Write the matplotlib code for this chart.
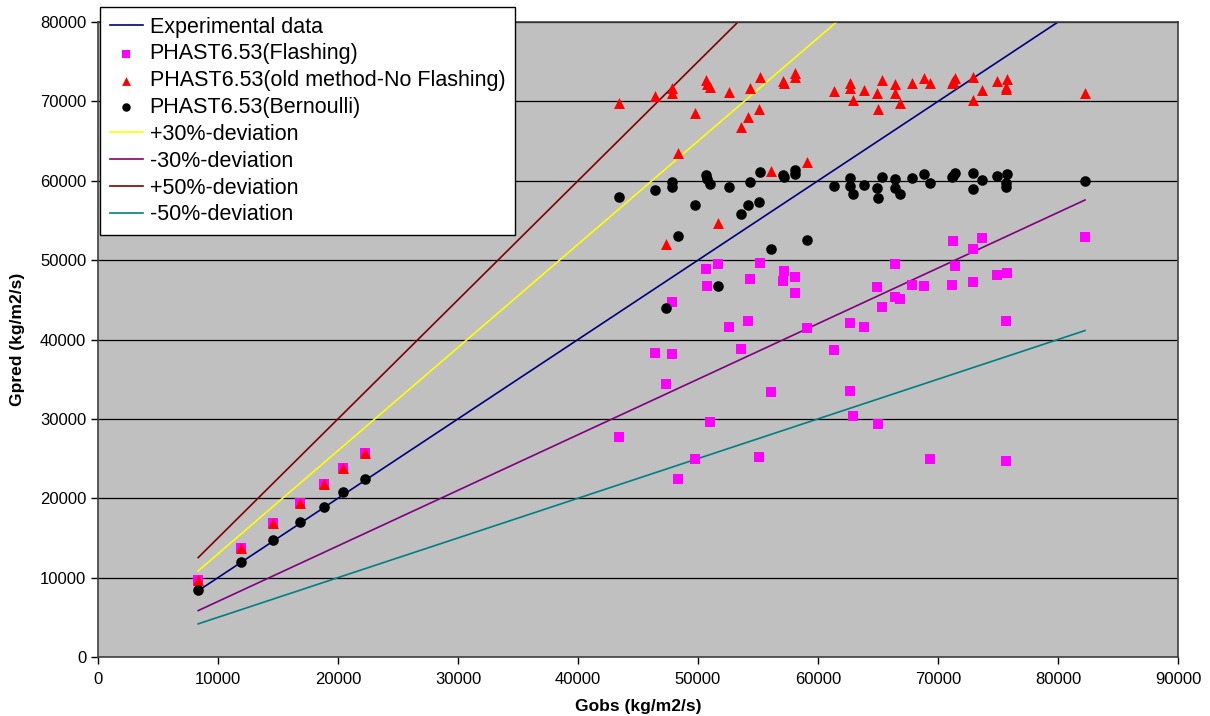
import matplotlib
matplotlib.use('Agg')
import matplotlib.pyplot as plt
import numpy as np

plt.rcParams['font.family'] = ['Liberation Sans', 'DejaVu Sans']

# observed mass flux, one entry per test (kg/m2/s)
gobs = np.array([
    8350, 11900, 14600, 16800, 18800, 20450, 22250,
    43400, 46400, 47300, 47850, 47850, 48300, 49750, 50700, 50750, 51000,
    51700, 52600, 53550, 54200, 54300, 55050, 55150, 56100, 57100, 57200,
    58100, 58100, 59050, 61350, 62650, 62700, 62900, 63800, 64900, 65000,
    65300, 66400, 66450, 66800, 67800, 68800, 69350, 71150, 71250, 71450,
    72900, 72900, 73650, 74950, 75650, 75700, 75750, 82250])

# predicted mass flux, PHAST6.53 flashing model
g_flashing = np.array([
    9700, 13750, 16850, 19450, 21750, 23850, 25750,
    27750, 38350, 34400, 44700, 38150, 22400, 25000, 48850, 46750, 29650,
    49550, 41550, 38750, 42350, 47600, 25200, 49700, 33350, 47350, 48650,
    47900, 45900, 41500, 38650, 42100, 33550, 30400, 41600, 46650, 29350,
    44100, 49500, 45400, 45050, 46850, 46800, 25000, 46850, 52400, 49300,
    51350, 47300, 52750, 48150, 24750, 42350, 48350, 52950])

# predicted mass flux, old method (no flashing)
g_old = np.array([
    9700, 13750, 16850, 19450, 21750, 23850, 25750,
    69750, 70650, 52050, 71650, 71000, 63450, 68500, 72700, 72150, 71750,
    54700, 71150, 66750, 68050, 71650, 69000, 73100, 61250, 72600, 72300,
    73550, 73050, 62350, 71350, 72350, 71650, 70150, 71450, 71100, 69050,
    72700, 71000, 72150, 69850, 72350, 73000, 72350, 72350, 72600, 72900,
    73100, 70150, 71450, 72600, 71850, 71550, 72800, 71100])

# predicted mass flux, Bernoulli
g_bernoulli = np.array([
    8450, 12000, 14750, 16950, 18950, 20800, 22400,
    58000, 58850, 44000, 59900, 59150, 53050, 56950, 60700, 60200, 59550,
    46750, 59250, 55800, 57000, 59900, 57300, 61050, 51350, 60700, 60450,
    61350, 60800, 52500, 59350, 60300, 59350, 58300, 59450, 59050, 57800,
    60500, 59050, 60200, 58350, 60400, 60850, 59750, 60450, 60650, 60950,
    61000, 59000, 60100, 60600, 59250, 59700, 60800, 60000])

# deviation bands around the experimental values
dev_labels = ['+30%-deviation', '-30%-deviation', '+50%-deviation', '-50%-deviation']
dev_factors = [1.3, 0.7, 1.5, 0.5]
dev_colors = ['#FFFF00', '#800080', '#800000', '#008080']

fig = plt.figure(figsize=(12.1, 7.16), dpi=100)
ax = fig.add_axes([98 / 1210, 1 - 657 / 716, 1080 / 1210, 635 / 716])
ax.set_facecolor('#C0C0C0')

xl = np.array([gobs.min(), gobs.max()])
h_exp, = ax.plot(xl, xl, color='#000080', lw=1.2, zorder=2, label='Experimental data')
h_fl = ax.scatter(gobs, g_flashing, marker='s', s=52, color='#FF00FF', lw=0, zorder=3,
                  label='PHAST6.53(Flashing)')
h_old = ax.scatter(gobs, g_old, marker='^', s=62, color='#FF0000', lw=0, zorder=4,
                   label='PHAST6.53(old method-No Flashing)')
h_be = ax.scatter(gobs, g_bernoulli, marker='o', s=58, color='black', lw=0, zorder=5,
                  label='PHAST6.53(Bernoulli)')
dev_handles = []
for lab, f, c in zip(dev_labels, dev_factors, dev_colors):
    h, = ax.plot(xl, xl * f, color=c, lw=1.2, zorder=2, label=lab)
    dev_handles.append(h)

ax.set_xlim(0, 90000)
ax.set_ylim(0, 80000)
ax.set_xticks(np.arange(0, 90001, 10000))
ax.set_yticks(np.arange(0, 80001, 10000))
ax.yaxis.grid(True, color='black', lw=0.9)
ax.set_axisbelow(True)
ax.tick_params(direction='out', length=5, width=1, labelsize=12, colors='black')
ax.tick_params(axis='x', pad=5.5)
for sp in ax.spines.values():
    sp.set_color('#404040')
    sp.set_linewidth(1.2)

ax.set_xlabel('Gobs (kg/m2/s)', fontsize=12.5, fontweight='bold', labelpad=9)
ax.set_ylabel('Gpred (kg/m2/s)', fontsize=12.5, fontweight='bold', labelpad=11)

handles = [h_exp, h_fl, h_old, h_be] + dev_handles
leg = fig.legend(handles=handles, loc='upper left',
                 bbox_to_anchor=(100 / 1210, 1 - 7 / 716), bbox_transform=fig.transFigure,
                 fontsize=15.5, frameon=True, fancybox=False, edgecolor='black',
                 framealpha=1, borderaxespad=0, borderpad=0.45, labelspacing=0.27,
                 handlelength=1.55, handletextpad=0.3, markerscale=0.8)
leg.get_frame().set_linewidth(1.0)

fig.savefig('out.png', dpi=100, facecolor='white')
